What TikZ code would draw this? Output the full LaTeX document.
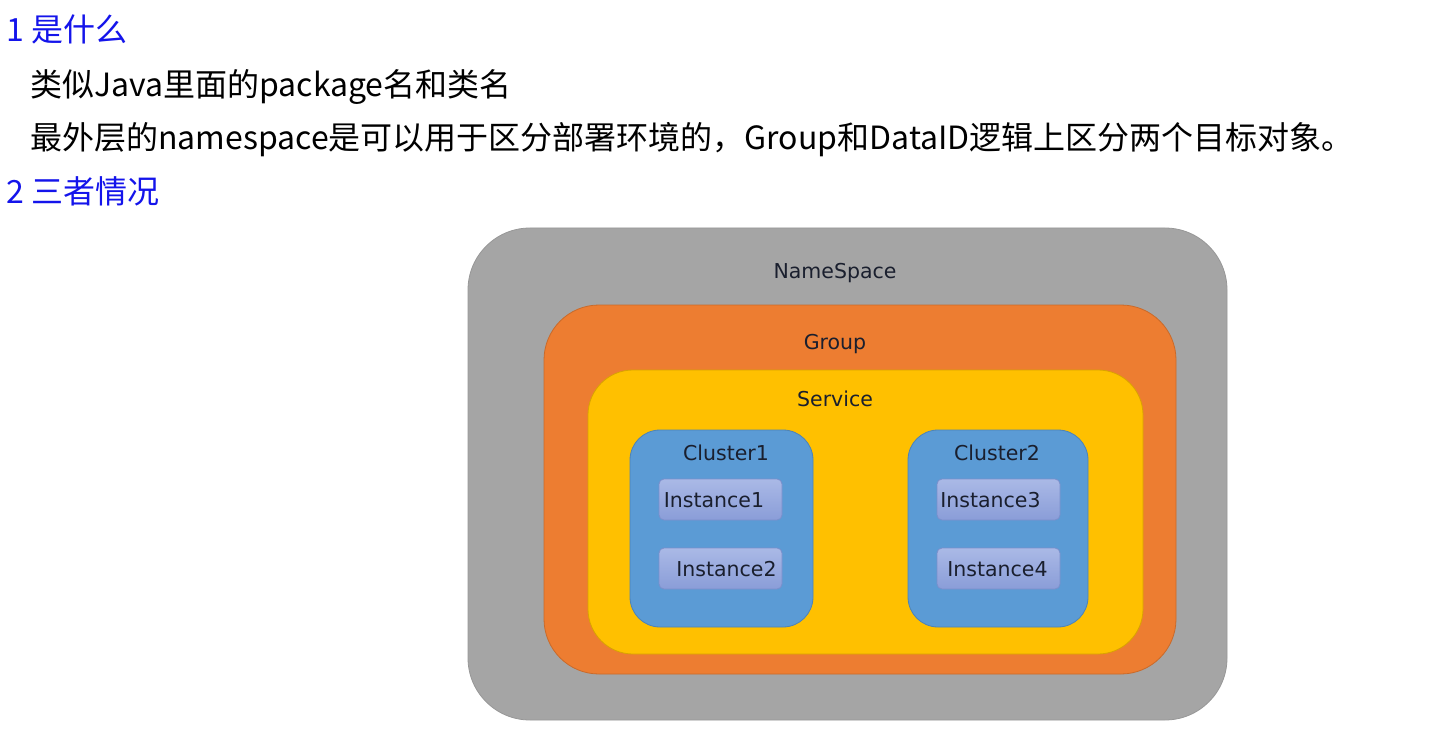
\documentclass[tikz,border=0pt]{standalone}
\usepackage{fontspec}
\setmainfont{DejaVu Sans}
\newfontfamily\cjk{Noto Sans CJK SC}
\usetikzlibrary{positioning}
\definecolor{headblue}{RGB}{20,20,235}
\definecolor{nsgray}{HTML}{A5A5A5}
\definecolor{nsline}{HTML}{979797}
\definecolor{grouporange}{HTML}{ED7D31}
\definecolor{groupline}{HTML}{C96A2A}
\definecolor{serviceyellow}{HTML}{FFC000}
\definecolor{serviceline}{HTML}{D9A300}
\definecolor{clusterblue}{HTML}{5B9BD5}
\definecolor{clusterline}{HTML}{4C83B8}
\definecolor{insttop}{HTML}{AAB9E6}
\definecolor{instbottom}{HTML}{8A9DD8}
\definecolor{instline}{HTML}{7A8FCC}
\definecolor{lbltext}{HTML}{1A1F2E}

\begin{document}
\begin{tikzpicture}[x=1pt,y=-1pt,
  head/.style={anchor=base west,inner sep=0pt,font=\cjk\fontsize{32}{32}\selectfont},
  box/.style={draw,line width=0.8pt,inner sep=0pt},
  lbl/.style={inner sep=0pt,text height=15pt,text depth=0pt,text=lbltext,
    font=\fontsize{20.5}{20.5}\selectfont},
  inst/.style={box,draw=instline,top color=insttop,bottom color=instbottom,
    rounded corners=5pt,minimum width=123pt,minimum height=41pt}]
\useasboundingbox (0,0) rectangle (1429,743);
\fill[white] (0,0) rectangle (1429,743);

\node[head,text=headblue] (h1) at (6,42) {1 是什么};
\node[head] (l1) at (30,97) {类似Java里面的package名和类名};
\node[head] (l2) at (30,150) {最外层的namespace是可以用于区分部署环境的，Group和DataID逻辑上区分两个目标对象。};
\node[head,text=headblue] (h2) at (6,204) {2 三者情况};

\node[box,draw=nsline,fill=nsgray,rounded corners=62pt,
  minimum width=759pt,minimum height=492pt] (ns) at (847.5,474) {};
\node[box,draw=groupline,fill=grouporange,rounded corners=55pt,
  minimum width=632pt,minimum height=369pt] (grp) at (860,489.5) {};
\node[box,draw=serviceline,fill=serviceyellow,rounded corners=45pt,
  minimum width=555pt,minimum height=284pt] (svc) at (865.5,512) {};
\node[box,draw=clusterline,fill=clusterblue,rounded corners=30pt,
  minimum width=183pt,minimum height=197pt] (c1) at (721.5,528.5) {};
\node[box,draw=clusterline,fill=clusterblue,rounded corners=30pt,
  minimum width=180pt,minimum height=197pt] (c2) at (998,528.5) {};

\node[inst] (i1) at (720.5,499.5) {};
\node[inst] (i2) at (720.5,568.5) {};
\node[inst] (i3) at (998.5,499.5) {};
\node[inst] (i4) at (998.5,568.5) {};

\node[lbl] (nslbl) at (835,271) {NameSpace};
\node[lbl] (grplbl) at (835,342) {Group};
\node[lbl] (svclbl) at (835,399) {Service};
\node[lbl] (c1lbl) at (726,453) {Cluster1};
\node[lbl] (c2lbl) at (997,453) {Cluster2};
\node[lbl] (i1lbl) at ([xshift=-6.5pt]i1.center) {Instance1};
\node[lbl] (i2lbl) at ([xshift=6pt]i2.center) {Instance2};
\node[lbl] (i3lbl) at ([xshift=-8pt]i3.center) {Instance3};
\node[lbl] (i4lbl) at ([xshift=-1pt]i4.center) {Instance4};
\end{tikzpicture}
\end{document}
